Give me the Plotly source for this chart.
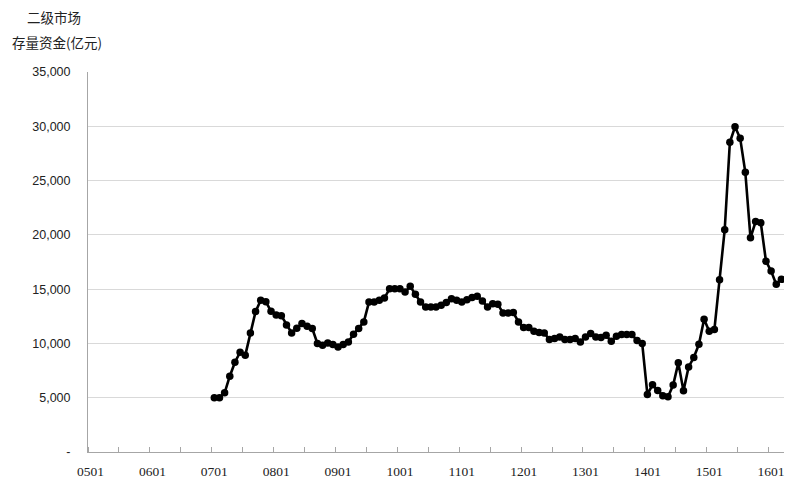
import plotly.graph_objects as go

# Monthly categories 0501 .. 1603
years = ["05", "06", "07", "08", "09", "10", "11", "12", "13", "14", "15", "16"]
months = ["01", "02", "03", "04", "05", "06", "07", "08", "09", "10", "11", "12"]
categories = [y + m for y in years for m in months][:135]

tick_labels = ["0501", "0601", "0701", "0801", "0901", "1001", "1101",
               "1201", "1301", "1401", "1501", "1601"]

start_label = "0701"
values = [
    5000, 5000, 5450, 6980, 8270, 9190, 8900, 10960, 12930, 13970, 13850, 12960,   # 2007
    12620, 12560, 11700, 10960, 11400, 11830, 11580, 11370, 9990, 9830, 10050, 9900,  # 2008
    9680, 9900, 10140, 10840, 11370, 11980, 13810, 13810, 13970, 14180, 15040, 15040,  # 2009
    15040, 14730, 15260, 14520, 13810, 13350, 13350, 13350, 13510, 13760, 14120, 13970,  # 2010
    13810, 14030, 14220, 14340, 13900, 13350, 13660, 13600, 12800, 12800, 12840, 11980,  # 2011
    11460, 11460, 11120, 11000, 10960, 10360, 10450, 10600, 10360, 10360, 10450, 10140,  # 2012
    10600, 10910, 10600, 10540, 10750, 10200, 10660, 10820, 10820, 10820, 10260, 9990,   # 2013
    5300, 6190, 5670, 5180, 5080, 6160, 8210, 5630, 7840, 8700, 9920, 12220,            # 2014
    11120, 11280, 15870, 20470, 28520, 29950, 28890, 25760, 19730, 21230, 21110, 17580,  # 2015
    16660, 15440, 15900,                                                              # 2016
]

y_ticks = [0, 5000, 10000, 15000, 20000, 25000, 30000, 35000]
y_tick_text = ["-", "5,000", "10,000", "15,000", "20,000", "25,000", "30,000", "35,000"]

start = categories.index(start_label)
x_idx = list(range(start, start + len(values)))
tick_pos = [categories.index(t) for t in tick_labels]

fig = go.Figure()
fig.add_trace(go.Scatter(
    x=x_idx, y=values, mode="lines+markers",
    line=dict(color="#000000", width=2.6),
    marker=dict(color="#000000", size=7.5),
    hovertext=[categories[i] for i in x_idx],
    showlegend=False,
))

fig.update_layout(
    width=806, height=483,
    margin=dict(l=88, r=22, t=72, b=31),
    paper_bgcolor="white", plot_bgcolor="white",
    xaxis=dict(
        range=[-0.5, len(categories) - 0.5],
        tickvals=tick_pos, ticktext=tick_labels,
        ticks="", showgrid=False, zeroline=False,
        showline=True, linecolor="#a6a6a6", linewidth=1,
        tickfont=dict(family="Liberation Serif", size=13.5, color="#222222"),
        ticklabelstandoff=7, automargin=False,
        minor=dict(tick0=-0.5, dtick=6, ticks="inside", ticklen=5,
                   tickcolor="#a6a6a6", tickwidth=1, showgrid=False),
    ),
    yaxis=dict(
        range=[0, 35000],
        tickvals=y_ticks, ticktext=y_tick_text,
        ticks="", showgrid=True, gridcolor="#d9d9d9", gridwidth=1,
        zeroline=False,
        showline=True, linecolor="#a6a6a6", linewidth=1,
        tickfont=dict(family="Liberation Sans, Arial", size=12.5, color="#222222"),
        ticklabelstandoff=14, automargin=False,
    ),
    annotations=[
        dict(text="二级市场", xref="paper", yref="paper", x=-0.049, y=1.0,
             xanchor="center", yanchor="bottom", yshift=43, showarrow=False,
             font=dict(family="Noto Sans CJK SC", size=13.5, color="#222222")),
        dict(text="存量资金(亿元)", xref="paper", yref="paper", x=-0.045, y=1.0,
             xanchor="center", yanchor="bottom", yshift=18, showarrow=False,
             font=dict(family="Noto Sans CJK SC", size=13.5, color="#222222")),
    ],
)

fig.write_html("out.html", config={"displayModeBar": False},
               post_script="document.body.style.margin='0';")
